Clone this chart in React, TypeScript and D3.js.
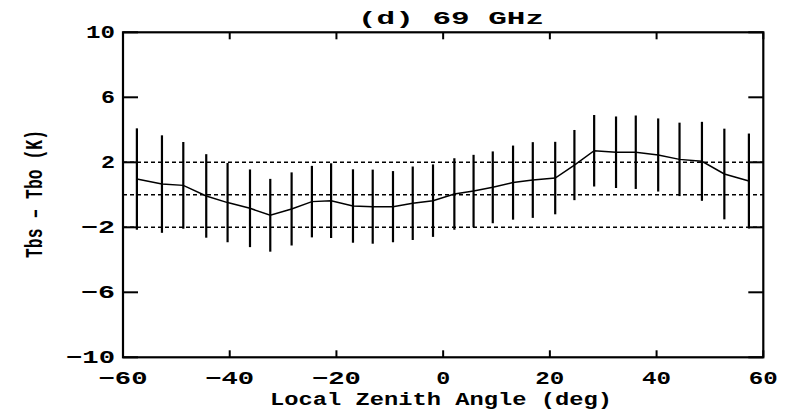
import React from "react";
import * as d3 from "d3";

const angles = [-57.4, -52.7, -48.7, -44.4, -40.4, -36.2, -32.4, -28.4, -24.6, -21.0, -16.9, -13.2, -9.4, -5.7, -1.9, 2.1, 5.7, 9.3, 13.1, 16.8, 21.0, 24.6, 28.3, 32.4, 36.1, 40.3, 44.3, 48.5, 52.7, 57.3];
const meanDiff = [0.97, 0.66, 0.58, -0.07, -0.48, -0.83, -1.26, -0.87, -0.42, -0.36, -0.69, -0.73, -0.73, -0.52, -0.36, 0.05, 0.23, 0.46, 0.75, 0.91, 1.03, 1.83, 2.71, 2.62, 2.62, 2.45, 2.18, 2.06, 1.28, 0.85];
const stdDiff = [3.12, 3.0, 2.67, 2.57, 2.44, 2.39, 2.24, 2.25, 2.2, 2.3, 2.26, 2.28, 2.19, 2.26, 2.23, 2.2, 2.23, 2.21, 2.28, 2.33, 2.23, 2.16, 2.2, 2.2, 2.26, 2.25, 2.26, 2.43, 2.79, 2.92];
const xTicks = [-60, -40, -20, 0, 20, 40, 60];
const yTicks = [10, 6, 2, -2, -6, -10];
const refLines = [2, 0, -2];
const title = "(d) 69 GHz";
const xLabel = "Local Zenith Angle (deg)";
const yLabel = "Tbs \u2013 Tbo (K)";

const W = 786;
const H = 412;
const L = 123, R = 763.3, T = 32.3, B = 357.3;
const FONT = "'Liberation Mono', 'DejaVu Sans Mono', monospace";

function fmt(v: number) {
  return v < 0 ? "\u2212" + Math.abs(v) : String(v);
}
function labelLen(s: string) {
  let n = 0;
  for (const c of s) n += c === "\u2212" ? 20 : 15;
  return n - 1;
}

export default function App() {
  const x = d3.scaleLinear().domain([-60, 60]).range([L, R]);
  const y = d3.scaleLinear().domain([-10, 10]).range([B, T]);
  const line = d3
    .line<number>()
    .x((_, i) => x(angles[i]))
    .y((d) => y(d));

  return (
    <svg
      width={W}
      height={H}
      style={{ position: "absolute", left: 0, top: 0, background: "#fff" }}
    >
      <rect x={0} y={0} width={W} height={H} fill="#fff" />
      {refLines.map((v) => (
        <line
          key={"r" + v}
          x1={L}
          x2={R}
          y1={y(v)}
          y2={y(v)}
          stroke="#000"
          strokeWidth={1.6}
          strokeDasharray="4,3"
        />
      ))}
      {angles.map((a, i) => (
        <line
          key={"e" + i}
          x1={x(a)}
          x2={x(a)}
          y1={y(meanDiff[i] + stdDiff[i])}
          y2={y(meanDiff[i] - stdDiff[i])}
          stroke="#000"
          strokeWidth={2.2}
        />
      ))}
      <path d={line(meanDiff) || ""} fill="none" stroke="#000" strokeWidth={1.5} />
      <rect x={L} y={T} width={R - L} height={B - T} fill="none" stroke="#000" strokeWidth={2.2} />
      {xTicks.map((t) => (
        <g key={"xt" + t}>
          <line x1={x(t)} x2={x(t)} y1={B} y2={B - 7} stroke="#000" strokeWidth={2} />
          <line x1={x(t)} x2={x(t)} y1={T} y2={T + 7} stroke="#000" strokeWidth={2} />
          <text
            x={x(t)}
            y={383.5}
            textAnchor="middle"
            fontFamily={FONT}
            fontWeight="bold"
            fontSize={18}
            textLength={labelLen(fmt(t))}
            lengthAdjust="spacingAndGlyphs"
          >
            {fmt(t)}
          </text>
        </g>
      ))}
      {yTicks.map((t) => (
        <g key={"yt" + t}>
          <line x1={L} x2={L + 15} y1={y(t)} y2={y(t)} stroke="#000" strokeWidth={2} />
          <line x1={R} x2={R - 15} y1={y(t)} y2={y(t)} stroke="#000" strokeWidth={2} />
          <text
            x={115}
            y={y(t) + 6}
            textAnchor="end"
            fontFamily={FONT}
            fontWeight="bold"
            fontSize={18.5}
            textLength={labelLen(fmt(t))}
            lengthAdjust="spacingAndGlyphs"
          >
            {fmt(t)}
          </text>
        </g>
      ))}
      <text
        x={451}
        y={23.5}
        textAnchor="middle"
        fontFamily={FONT}
        fontWeight="bold"
        fontSize={19}
        textLength={186}
        lengthAdjust="spacingAndGlyphs"
      >
        {title}
      </text>
      <text
        x={441}
        y={404.5}
        textAnchor="middle"
        fontFamily={FONT}
        fontWeight="bold"
        fontSize={18}
        textLength={342}
        lengthAdjust="spacingAndGlyphs"
      >
        {xLabel}
      </text>
      <text
        transform={`translate(42,194) rotate(-90)`}
        textAnchor="middle"
        fontFamily={FONT}
        fontWeight="bold"
        fontSize={23}
        textLength={128}
        lengthAdjust="spacingAndGlyphs"
      >
        {yLabel}
      </text>
    </svg>
  );
}
